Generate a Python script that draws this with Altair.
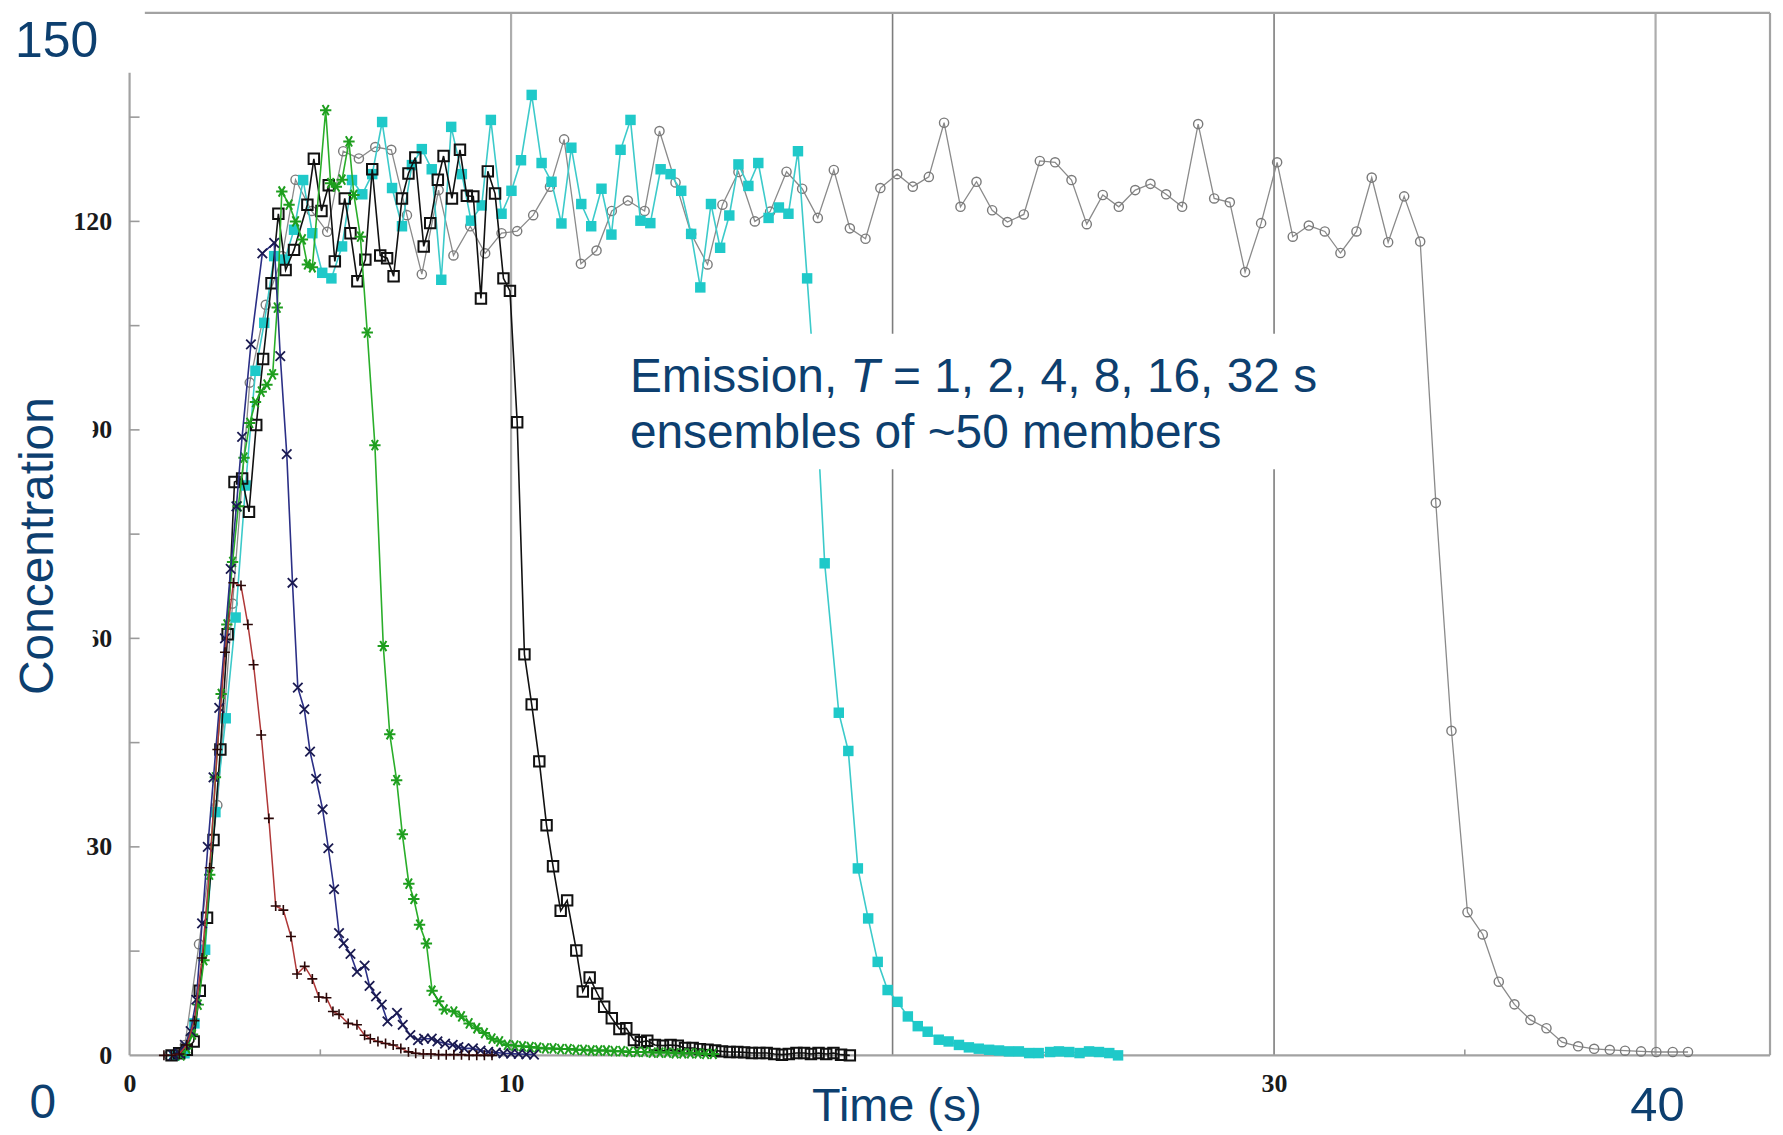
import altair as alt
import pandas as pd

# ---------------- data ----------------
# T = 1 s (red line, "+" markers)
t1_x = [0.9, 1.1, 1.3, 1.5, 1.7, 1.9, 2.1, 2.3, 2.5, 2.72, 2.92, 3.1, 3.25, 3.45, 3.65, 3.83, 4.03, 4.23, 4.39,
        4.59, 4.79, 4.96, 5.16, 5.33, 5.49, 5.73, 5.96, 6.16, 6.31, 6.51, 6.71, 6.91, 7.11, 7.31, 7.5, 7.7, 7.9,
        8.1, 8.3, 8.5, 8.7, 8.9, 9.1, 9.3, 9.5]
t1_y = [0, 0, 0.2, 1.5, 5, 14, 27, 44, 58, 68, 67.6, 62, 56.2, 46.1, 34.1, 21.5, 20.9, 17.1, 11.7,
        12.8, 11.0, 8.4, 8.3, 6.3, 5.9, 4.6, 4.4, 2.9, 2.4, 2.0, 1.7, 1.5, 1.0, 0.5, 0.3, 0.2, 0.2,
        0.1, 0.1, 0.1, 0.1, 0, 0, 0, 0]

# T = 2 s (navy line, "x" markers)
t2_x = [1.15, 1.3, 1.45, 1.6, 1.75, 1.9, 2.05, 2.2, 2.35, 2.5, 2.65, 2.8, 2.95, 3.18, 3.48, 3.79, 3.95, 4.12,
        4.27, 4.41, 4.58, 4.73, 4.89, 5.06, 5.21, 5.36, 5.49, 5.61, 5.79, 5.96, 6.16, 6.29, 6.46, 6.61, 6.76,
        7.01, 7.16, 7.36, 7.56, 7.72, 7.92, 8.07, 8.27, 8.47, 8.62, 8.77, 9.0, 9.2, 9.4, 9.6, 9.8, 10.0, 10.2,
        10.4, 10.6]
t2_y = [0, 0.3, 1.5, 3.5, 8, 19, 30, 40, 50, 60, 70, 79, 89, 102.3, 115.4, 116.9, 100.6, 86.5,
        68, 52.9, 49.8, 43.7, 39.8, 35.4, 29.8, 23.9, 17.6, 16.1, 14.6, 12.0, 12.9, 10.0, 8.5, 7.3, 4.9,
        6.1, 4.4, 2.9, 2.2, 2.4, 2.4, 2.0, 1.7, 1.5, 1.2, 1.0, 1.0, 0.7, 0.5, 0.4, 0.3, 0.25, 0.2,
        0.15, 0.1]

# T = 4 s (green line, "*" markers)
t4_x = [1.35, 1.5, 1.65, 1.8, 1.95, 2.1, 2.25, 2.4, 2.55, 2.7, 2.85, 3.0, 3.15, 3.3, 3.45, 3.6, 3.75, 3.87,
        3.99, 4.18, 4.35, 4.53, 4.66, 4.79, 5.14, 5.27, 5.42, 5.57, 5.75, 5.88, 6.05, 6.23, 6.43, 6.65, 6.82,
        7.0, 7.15, 7.32, 7.45, 7.6, 7.78, 7.93, 8.1, 8.25, 8.5, 8.7, 8.9, 9.1, 9.3, 9.5, 9.7, 9.9, 10.1,
        10.3, 10.5, 10.7, 10.9, 11.1, 11.3, 11.5, 11.7, 11.9, 12.1, 12.3, 12.5, 12.7, 12.9, 13.1, 13.3, 13.5,
        13.7, 13.9, 14.1, 14.3, 14.5, 14.7, 14.9, 15.1, 15.3]
t4_y = [0, 1, 3, 7.3, 13.7, 26, 40, 52, 62, 71, 79, 86, 91, 94, 95.5, 96.5, 98, 107.6,
        124.3, 122.4, 120, 117.4, 113.8, 113.4, 136.0, 125.5, 125, 126.0, 131.5, 123.8, 117.8, 104.0, 87.8, 58.9, 46.2,
        39.6, 31.8, 24.7, 22.5, 18.8, 16.1, 9.3, 7.8, 6.6, 6.3, 5.6, 4.6, 3.9, 3.2, 2.4, 2.0, 1.5, 1.4,
        1.3, 1.2, 1.1, 1.0, 1.0, 0.9, 0.9, 0.8, 0.8, 0.7, 0.7, 0.7, 0.6, 0.6, 0.5, 0.5, 0.5,
        0.4, 0.4, 0.4, 0.3, 0.3, 0.3, 0.3, 0.2, 0.2]

# T = 8 s (black line, open squares)
t8_x = [1.1, 1.3, 1.5, 1.68, 1.84, 2.03, 2.2, 2.38, 2.57, 2.75, 2.95, 3.13, 3.32, 3.5, 3.72, 3.9, 4.09, 4.31,
        4.66, 4.83, 5.03, 5.22, 5.38, 5.64, 5.79, 5.97, 6.18, 6.36, 6.57, 6.75, 6.92, 7.14, 7.31, 7.49, 7.71,
        7.88, 8.08, 8.23, 8.45, 8.66, 8.84, 9.01, 9.21, 9.39, 9.58, 9.8, 9.97, 10.16, 10.35, 10.54, 10.74,
        10.93, 11.1, 11.3, 11.47, 11.71, 11.88, 12.06, 12.26, 12.44, 12.64, 12.84, 13.02, 13.22, 13.4, 13.57,
        13.77, 13.98, 14.18, 14.37, 14.56, 14.76, 14.95, 15.15, 15.35, 15.53, 15.73, 15.93, 16.11, 16.31,
        16.51, 16.7, 16.9, 17.1, 17.28, 17.48, 17.68, 17.86, 18.06, 18.26, 18.45, 18.65, 18.88]
t8_y = [0, 0.3, 0.8, 2.0, 9.3, 19.8, 31, 44, 60.6, 82.5, 83, 78.2, 90.7, 100.2, 111.1, 121.1, 113.0, 115.9,
        122.4, 129.0, 121.5, 125.2, 114.25, 123.3, 118.3, 111.4, 114.5, 127.5, 115.1, 114.7, 112.1, 123.3, 126.9,
        129.2, 116.4, 119.75, 126.0, 129.4, 123.3, 130.3, 123.7, 123.6, 108.9, 127.2, 124.0, 111.8, 110.0, 91.1,
        57.7, 50.5, 42.3, 33.1, 27.2, 20.8, 22.3, 15.1, 9.2, 11.2, 8.9, 7.0, 5.35, 3.8, 3.9, 2.2, 1.9, 2.1,
        1.5, 1.4, 1.5, 1.4, 1.05, 1.05, 0.9, 0.8, 0.7, 0.57, 0.48, 0.48, 0.43, 0.33, 0.33, 0.33, 0.2, 0.1,
        0.2, 0.33, 0.33, 0.2, 0.33, 0.2, 0.33, 0.1, 0.0]

# T = 16 s (cyan line, filled squares)
t16_x = [1.18, 1.44, 1.7, 1.98, 2.25, 2.52, 2.78, 3.04, 3.3, 3.53, 3.79, 4.07, 4.31, 4.55, 4.79, 5.05, 5.29,
         5.57, 5.83, 6.1, 6.36, 6.62, 6.88, 7.14, 7.4, 7.66, 7.92, 8.17, 8.43, 8.71, 8.95, 9.23, 9.47, 9.75,
         10.01, 10.26, 10.54, 10.8, 11.06, 11.32, 11.58, 11.84, 12.1, 12.37, 12.63, 12.87, 13.13, 13.39, 13.65,
         13.92, 14.18, 14.46, 14.72, 14.96, 15.24, 15.48, 15.72, 15.96, 16.22, 16.48, 16.75, 17.02, 17.27,
         17.52, 17.76, 18.02, 18.22, 18.59, 18.84, 19.09, 19.36, 19.61, 19.87, 20.13, 20.4, 20.66, 20.92,
         21.21, 21.47, 21.74, 22.0, 22.26, 22.53, 22.79, 23.05, 23.31, 23.58, 23.83, 24.13, 24.36, 24.63,
         24.9, 25.15, 25.41, 25.68, 25.91]
t16_y = [0, 0.3, 4.6, 15.2, 35.0, 48.5, 63, 82, 98.5, 105.4, 115.0, 114.5, 118.8, 125.95, 118.3, 112.6, 111.8,
         116.4, 125.95, 123.9, 126.8, 134.3, 124.8, 119.3, 128.1, 130.4, 127.5, 111.6, 133.6, 126.8, 120.1, 122.3,
         134.6, 121.1, 124.4, 128.8, 138.2, 128.4, 125.7, 119.7, 130.6, 122.5, 119.3, 124.7, 118.1, 130.3, 134.6,
         120.1, 119.75, 127.5, 126.8, 124.4, 118.2, 110.5, 122.5, 116.2, 120.85, 128.2, 125.1, 128.4, 120.5,
         122.0, 121.1, 130.1, 111.8, 92, 70.8, 49.3, 43.8, 26.9, 19.7, 13.45, 9.4, 7.7, 5.6, 4.2, 3.4,
         2.25, 2.0, 1.5, 1.15, 0.96, 0.8, 0.7, 0.57, 0.57, 0.33, 0.33, 0.48, 0.57, 0.48,
         0.33, 0.57, 0.48, 0.33, 0.0]

# T = 32 s (grey line, open circles)
t32_x = [1.03, 1.45, 1.82, 2.3, 2.7, 3.15, 3.57, 4.0, 4.35, 4.77, 5.18, 5.6, 6.01, 6.44, 6.86, 7.27, 7.66, 8.1,
         8.49, 8.93, 9.32, 9.75, 10.16, 10.58, 11.02, 11.39, 11.83, 12.24, 12.64, 13.06, 13.5, 13.89, 14.31,
         14.72, 15.15, 15.54, 15.96, 16.39, 16.79, 17.22, 17.63, 18.04, 18.46, 18.88, 19.29, 19.68, 20.12,
         20.53, 20.95, 21.35, 21.78, 22.2, 22.61, 23.01, 23.44, 23.86, 24.26, 24.69, 25.09, 25.51, 25.93,
         26.36, 26.76, 27.17, 27.59, 28.01, 28.43, 28.84, 29.24, 29.66, 30.08, 30.49, 30.91, 31.33, 31.74,
         32.16, 32.56, 32.99, 33.41, 33.83, 34.24, 34.65, 35.07, 35.47, 35.89, 36.3, 36.72, 37.14, 37.55,
         37.97, 38.39, 38.8, 39.2, 39.62, 40.02, 40.45, 40.85]
t32_y = [0, 1.5, 16, 36, 65, 96.8, 108, 115, 126, 121.5, 118.5, 130.1, 129.06, 130.7, 130.3, 120.9, 112.4, 124.5,
         115.1, 119.3, 115.4, 118.3, 118.6, 120.9, 125.0, 131.8, 113.9, 115.8, 121.5, 123.0, 121.5, 133.0, 125.6,
         118.2, 113.8, 122.4, 127.1, 120.0, 121.4, 127.15, 124.7, 120.5, 127.4, 119.0, 117.5, 124.8, 126.8,
         125.0, 126.4, 134.2, 122.1, 125.7, 121.6, 119.9, 121.0, 128.7, 128.5, 125.95, 119.6, 123.8, 122.1,
         124.5, 125.4, 123.9, 122.1, 134.0, 123.3, 122.75, 112.7, 119.75, 128.5, 117.8, 119.4, 118.55, 115.45,
         118.55, 126.3, 117.0, 123.6, 117.1, 79.5, 46.7, 20.6, 17.4, 10.6, 7.34, 5.1, 3.9, 1.9,
         1.3, 0.94, 0.8, 0.67, 0.57, 0.48, 0.48, 0.48]

for a, b in [(t1_x, t1_y), (t2_x, t2_y), (t4_x, t4_y), (t8_x, t8_y), (t16_x, t16_y), (t32_x, t32_y)]:
    assert len(a) == len(b), (len(a), len(b))

x_label_values = [0, 10, 30]
y_label_values = [0, 30, 60, 90, 120]
x_minor_ticks = [5, 15, 25, 35]
y_minor_ticks = [15, 30, 45, 60, 75, 90, 105, 120, 135]
grid_light = [10, 40]
grid_dark = [20, 30]
# frame segments (data units): bottom, left, top, right
frame_x = [0, 0, 0.4, 43]
frame_x2 = [43, 0, 43, 43]
frame_y = [0, 0, 150, 0]
frame_y2 = [0, 141.4, 150, 150]

# ---------------- layout ----------------
W, H = 1646, 1046
BLUE = "#0d3f6f"
SANS = "Liberation Sans"
SERIF = "Liberation Serif"

xs = alt.Scale(domain=[0, 43], nice=False, zero=False)
ys = alt.Scale(domain=[0, 150], nice=False, zero=False)

x_axis = alt.Axis(values=x_label_values, title=None, grid=False, domain=False, ticks=False, tickSize=0,
                  labelFont=SERIF, labelFontWeight="bold", labelFontSize=26, labelColor="#1a1a1a",
                  labelPadding=28, labelBaseline="middle", labelFlush=False, labelOverlap=False, format="d")
y_axis = alt.Axis(values=y_label_values, title=None, grid=False, domain=False, ticks=False, tickSize=0,
                  labelFont=SERIF, labelFontWeight="bold", labelFontSize=26, labelColor="#1a1a1a",
                  labelPadding=18, labelBaseline="middle", labelAlign="right", labelOverlap=False, format="d")


def X(f="x"):
    return alt.X(f"{f}:Q", scale=xs, axis=x_axis)


def Y(f="y"):
    return alt.Y(f"{f}:Q", scale=ys, axis=y_axis)


layers = []

# grid lines
layers.append(alt.Chart(pd.DataFrame({"x": grid_light})).mark_rule(color="#adadad", strokeWidth=2.2)
              .encode(x=X(), y=alt.value(0), y2=alt.value(H)))
layers.append(alt.Chart(pd.DataFrame({"x": grid_dark})).mark_rule(color="#7d7d7d", strokeWidth=1.6)
              .encode(x=X(), y=alt.value(0), y2=alt.value(H)))

# frame
frame = pd.DataFrame({"x": frame_x, "x2": frame_x2, "y": frame_y, "y2": frame_y2})
layers.append(alt.Chart(frame).mark_rule(color="#a2a2a2", strokeWidth=2.2)
              .encode(x=X(), x2="x2:Q", y=Y(), y2="y2:Q"))

# inward ticks
layers.append(alt.Chart(pd.DataFrame({"y": y_minor_ticks})).mark_rule(color="#9a9a9a", strokeWidth=1.6)
              .encode(y=Y(), x=alt.value(0), x2=alt.value(10)))
layers.append(alt.Chart(pd.DataFrame({"x": x_minor_ticks})).mark_rule(color="#9a9a9a", strokeWidth=1.6)
              .encode(x=X(), y=alt.value(H), y2=alt.value(H - 6)))

PLUS = "M-1,0L1,0M0,-1L0,1"
CROSS = "M-1,-1L1,1M-1,1L1,-1"
STAR = "M-1,0L1,0M-0.55,-0.9L0.55,0.9M-0.55,0.9L0.55,-0.9"

series = [
    (t32_x, t32_y, "#8a8a8a", "#7a7a7a", "circle", False, 85, 1.4, 1.3),
    (t16_x, t16_y, "#3ccaca", "#1fc9c9", "square", True, 110, 0, 1.6),
    (t8_x, t8_y, "#111111", "#111111", "square", False, 110, 2.0, 1.6),
    (t4_x, t4_y, "#2aae2a", "#1e9e1e", STAR, False, 130, 2.0, 1.6),
    (t2_x, t2_y, "#2b2f86", "#1a1a50", CROSS, False, 90, 1.8, 1.6),
    (t1_x, t1_y, "#b03838", "#2a0808", PLUS, False, 100, 1.6, 1.5),
]
for sx, sy, lc, mc, shape, filled, size, msw, lw in series:
    base = alt.Chart(pd.DataFrame({"x": sx, "y": sy}))
    layers.append(base.mark_line(color=lc, strokeWidth=lw).encode(x=X(), y=Y()))
    if filled:
        pts = base.mark_point(shape=shape, filled=True, color=mc, size=size, opacity=1)
    else:
        pts = base.mark_point(shape=shape, filled=False, color=mc, size=size, strokeWidth=msw, opacity=1)
    layers.append(pts.encode(x=X(), y=Y()))

one = pd.DataFrame({"k": [0]})

# white backgrounds of the slide text boxes
layers.append(alt.Chart(one).mark_rect(color="white").encode(
    x=alt.value(490), x2=alt.value(1200), y=alt.value(322), y2=alt.value(458)))
layers.append(alt.Chart(one).mark_rect(color="white").encode(
    x=alt.value(-125), x2=alt.value(-37), y=alt.value(378), y2=alt.value(700)))


def txt(s, x, y, size=48, align="left", angle=0, style="normal"):
    kw = dict(align=align, baseline="alphabetic", font=SANS, fontSize=size, color=BLUE, fontStyle=style)
    if angle:
        kw["angle"] = angle
    return alt.Chart(pd.DataFrame({"t": [s]})).mark_text(**kw).encode(
        text="t:N", x=alt.value(x), y=alt.value(y))


layers.append(txt("150", -115, 44, size=50))
layers.append(txt("0", -87, 1109, size=48, align="center"))
layers.append(txt("40", 1533, 1112, size=49, align="center"))
layers.append(txt("Time (s)", 770, 1112, size=47, align="center"))
layers.append(txt("Concentration", -77, 535, size=48, align="center", angle=270))
layers.append(txt("Emission,", 502, 380))
layers.append(txt("T", 723, 380, style="italic"))
layers.append(txt("= 1, 2, 4, 8, 16, 32 s", 766, 380))
layers.append(txt("ensembles of ~50 members", 502, 437))

chart = alt.layer(*layers).properties(
    width=W, height=H,
    autosize=alt.AutoSizeParams(type="none"),
    padding={"left": 122, "top": 3, "right": 5, "bottom": 78},
    background="white",
).configure_view(stroke=None)

chart.save("out.html", embed_options={"renderer": "svg", "actions": False})
